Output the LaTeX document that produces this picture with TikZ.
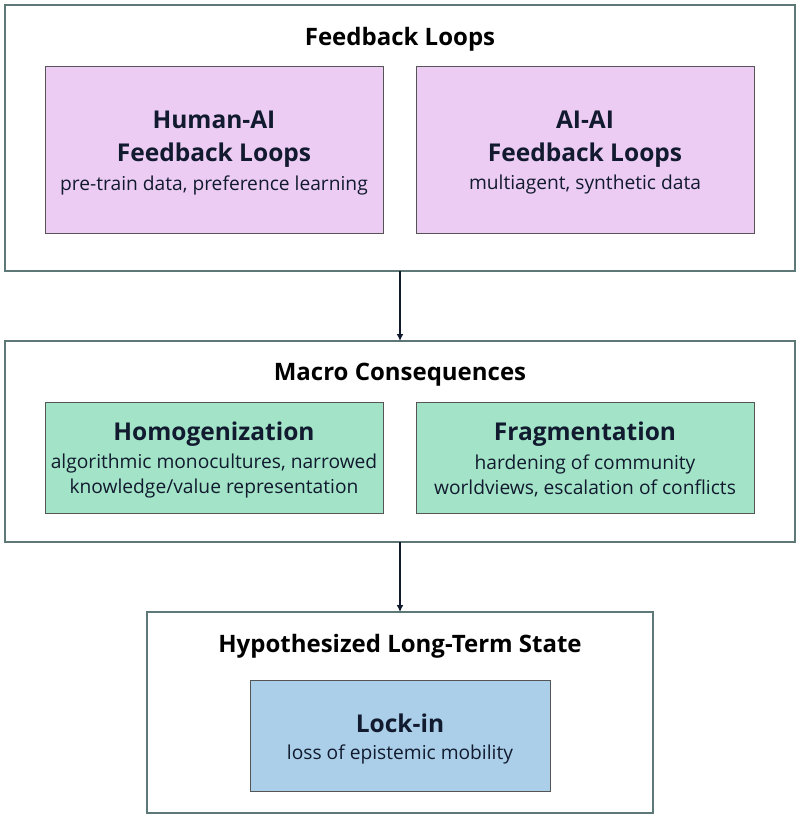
\documentclass[tikz,border=0pt]{standalone}
\usepackage{fontspec}
\setmainfont{Open Sans}
\usetikzlibrary{arrows.meta}
\definecolor{frame}{HTML}{5E7777}
\definecolor{pinkf}{HTML}{ECCCF3}
\definecolor{greenf}{HTML}{A3E4C8}
\definecolor{bluef}{HTML}{ABCFE8}
\definecolor{inkc}{HTML}{111A2E}
\definecolor{edgec}{HTML}{555555}
\tikzset{
  outerbox/.style={draw=frame, line width=1.6pt, fill=white},
  innerbox/.style={draw=edgec, line width=0.7pt},
  grouptitle/.style={font=\fontsize{24}{28}\selectfont\bfseries, text=black},
  boxtitle/.style={font=\fontsize{24.5}{33}\selectfont\bfseries, text=inkc},
  sub/.style={font=\fontsize{19.2}{25}\selectfont, text=inkc},
  conn/.style={draw=inkc, line width=1.6pt, -{Latex[length=7pt,width=7pt]}}
}
\begin{document}
\begin{tikzpicture}[x=1pt,y=-1pt]
\useasboundingbox (0,0) rectangle (800,820);
% group 1
\draw[outerbox] (5,5) rectangle (795,271);
\node[grouptitle] (t1) at (400,39) {Feedback Loops};
\draw[innerbox, fill=pinkf] (45,66) rectangle (383,233);
\draw[innerbox, fill=pinkf] (416,66) rectangle (754,233);
\node[boxtitle, align=center] (ha) at (214,139) {Human-AI\\Feedback Loops};
\node[sub] (has) at (214,185) {pre-train data, preference learning};
\node[boxtitle, align=center] (aa) at (585,139) {AI-AI\\Feedback Loops};
\node[sub] (aas) at (585,185) {multiagent, synthetic data};
% group 2
\draw[outerbox] (5,341) rectangle (795,542);
\node[grouptitle] (t2) at (400,375) {Macro Consequences};
\draw[innerbox, fill=greenf] (45,402) rectangle (383,513);
\draw[innerbox, fill=greenf] (416,402) rectangle (754,513);
\node[boxtitle] (ho) at (214,434) {Homogenization};
\node[sub, align=center] (hos) at (214,476) {algorithmic monocultures, narrowed\\knowledge/value representation};
\node[boxtitle] (fr) at (585,434) {Fragmentation};
\node[sub, align=center] (frs) at (585,476) {hardening of community\\worldviews, escalation of conflicts};
% group 3
\draw[outerbox] (147,612) rectangle (653,813);
\node[grouptitle] (t3) at (400,646) {Hypothesized Long-Term State};
\draw[innerbox, fill=bluef] (250,680) rectangle (550,791);
\node[boxtitle] (li) at (400,723) {Lock-in};
\node[sub] (lis) at (400,754) {loss of epistemic mobility};
% connectors
\coordinate (a1) at (400,271);
\coordinate (b1) at (400,341);
\coordinate (a2) at (400,542);
\coordinate (b2) at (400,612);
\draw[conn] (a1) -- (b1);
\draw[conn] (a2) -- (b2);
\end{tikzpicture}
\end{document}
